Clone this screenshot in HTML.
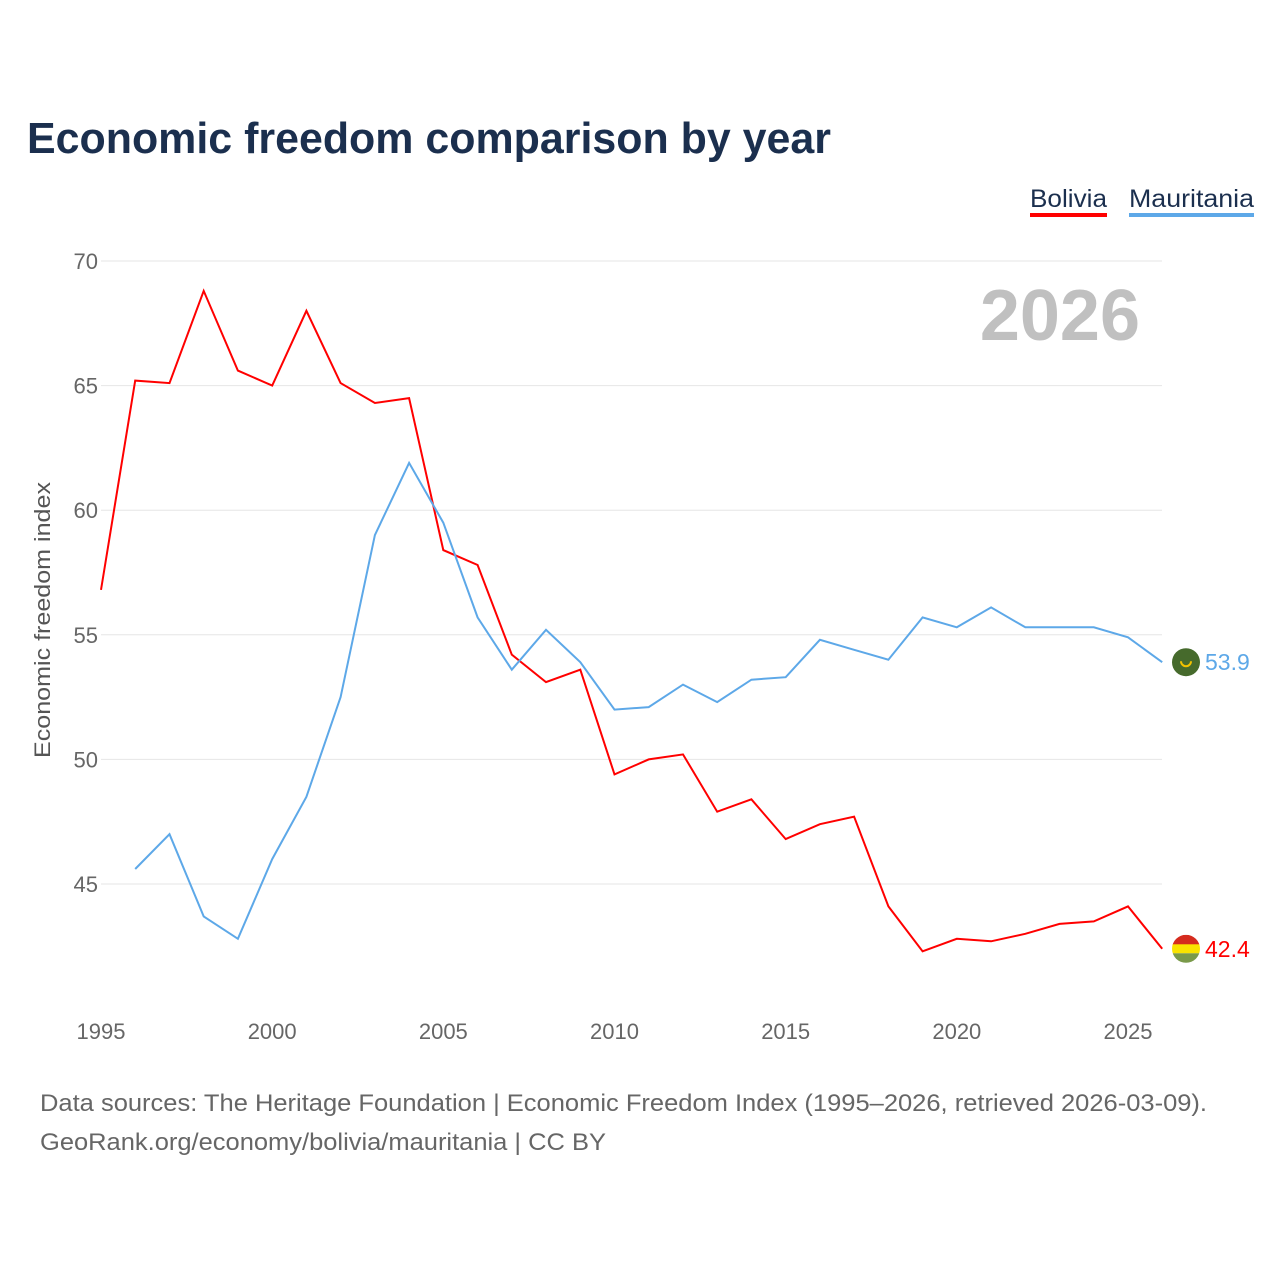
<!DOCTYPE html>
<html><head><meta charset="utf-8"><style>
body{margin:0;background:#fff;font-family:"Liberation Sans",sans-serif;}
</style></head><body>
<svg id="chart" width="1280" height="1280" xmlns="http://www.w3.org/2000/svg" font-family="Liberation Sans, sans-serif">
<rect width="1280" height="1280" fill="#fff"/>
<text x="27" y="153" font-size="44" font-weight="bold" fill="#1b2f4e" textLength="804" lengthAdjust="spacingAndGlyphs">Economic freedom comparison by year</text>
<g><text x="1030" y="207" font-size="25" fill="#1b2f4e" textLength="77" lengthAdjust="spacingAndGlyphs">Bolivia</text><rect x="1030" y="213" width="77" height="4" fill="#ff0000"/></g>
<g><text x="1129" y="207" font-size="25" fill="#1b2f4e" textLength="125" lengthAdjust="spacingAndGlyphs">Mauritania</text><rect x="1129" y="213" width="125" height="4" fill="#5da8e8"/></g>
<text x="1140" y="340" font-size="72" font-weight="bold" fill="#c0c0c0" text-anchor="end">2026</text>
<text transform="translate(50,620) rotate(-90)" font-size="22" fill="#555" text-anchor="middle" textLength="276" lengthAdjust="spacingAndGlyphs">Economic freedom index</text>
<g id="grid"></g><g id="xt"></g><g id="lines"></g>
<text x="40" y="1111" font-size="24" fill="#666" textLength="1167" lengthAdjust="spacingAndGlyphs">Data sources: The Heritage Foundation | Economic Freedom Index (1995–2026, retrieved 2026-03-09).</text>
<text x="40" y="1150" font-size="24" fill="#666" textLength="566" lengthAdjust="spacingAndGlyphs">GeoRank.org/economy/bolivia/mauritania | CC BY</text>
</svg>
<script>
const years=[1995,1996,1997,1998,1999,2000,2001,2002,2003,2004,2005,2006,2007,2008,2009,2010,2011,2012,2013,2014,2015,2016,2017,2018,2019,2020,2021,2022,2023,2024,2025,2026];
const bolivia=[56.8,65.2,65.1,68.8,65.6,65.0,68.0,65.1,64.3,64.5,58.4,57.8,54.2,53.1,53.6,49.4,50.0,50.2,47.9,48.4,46.8,47.4,47.7,44.1,42.3,42.8,42.7,43.0,43.4,43.5,44.1,42.4];
const mauritania=[null,45.6,47.0,43.7,42.8,46.0,48.5,52.5,59.0,61.9,59.5,55.7,53.6,55.2,53.9,52.0,52.1,53.0,52.3,53.2,53.3,54.8,54.4,54.0,55.7,55.3,56.1,55.3,55.3,55.3,54.9,53.9];
const yTicks=[45,50,55,60,65,70];
const xTicks=[1995,2000,2005,2010,2015,2020,2025];
const NS="http://www.w3.org/2000/svg";
const x=v=>101+(v-1995)*(1027/30);
const y=v=>261+(70-v)*(623/25);
function mk(t,a,p){const e=document.createElementNS(NS,t);for(const k in a)e.setAttribute(k,a[k]);p.appendChild(e);return e;}
const grid=document.getElementById('grid');
yTicks.forEach(t=>{
 const l=mk('line',{x1:101,x2:1162,y1:y(t),y2:y(t),stroke:'#e6e6e6','stroke-width':1},grid);
 
 
 const tx=mk('text',{x:98,y:y(t)+8,'font-size':22,fill:'#666','text-anchor':'end'},grid);tx.textContent=t;
 
 
});
const xt=document.getElementById('xt');
xTicks.forEach(t=>{
 const tx=mk('text',{x:x(t),y:1039,'font-size':22,fill:'#666','text-anchor':'middle'},xt);tx.textContent=t;
 
 
});
const lines=document.getElementById('lines');
function series(vals,color,name){
 let d='';vals.forEach((v,i)=>{if(v==null)return;d+=(d?'L':'M')+x(years[i]).toFixed(1)+','+y(v).toFixed(1);});
 const p=mk('path',{d:d,fill:'none',stroke:color,'stroke-width':2},lines);
 
 
 const last=vals[vals.length-1];
 const g=mk('g',{},lines);
 
 
 const cx=1186,cy=y(last);
 if(name==='mauritania'){
  mk('circle',{cx:cx,cy:cy,r:14,fill:'#466a2c'},g);
  mk('path',{d:`M${cx-5},${cy-1} a5,5 0 0 0 10,0`,fill:'none',stroke:'#f2c200','stroke-width':2},g);
 } else {
  mk('clipPath',{id:'bc'},g);document.getElementById('bc').appendChild(document.createElementNS(NS,'circle'));
  const c=document.querySelector('#bc circle');c.setAttribute('cx',cx);c.setAttribute('cy',cy);c.setAttribute('r',14);
  mk('rect',{x:cx-14,y:cy-14,width:28,height:10,fill:'#d52b1e','clip-path':'url(#bc)'},g);
  mk('rect',{x:cx-14,y:cy-4.5,width:28,height:9,fill:'#f9e300','clip-path':'url(#bc)'},g);
  mk('rect',{x:cx-14,y:cy+4.5,width:28,height:10,fill:'#7a9a4a','clip-path':'url(#bc)'},g);
 }
 const t=mk('text',{x:1205,y:cy+8,'font-size':23,fill:color},g);t.textContent=last.toFixed(1);
}
series(bolivia,'#ff0000','bolivia');
series(mauritania,'#5da8e8','mauritania');
</script>
</body></html>
